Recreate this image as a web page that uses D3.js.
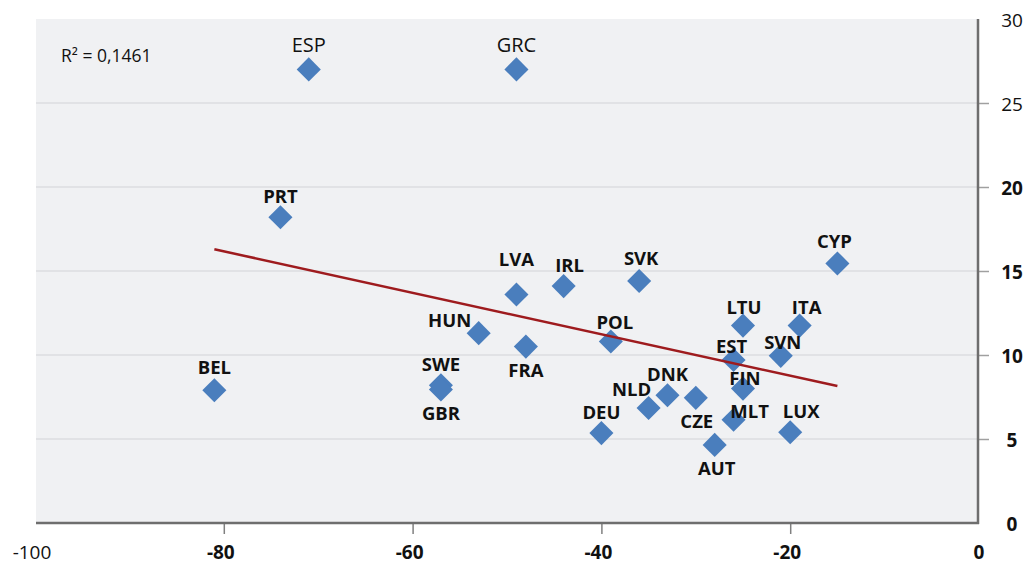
<!DOCTYPE html>
<html>
<head>
<meta charset="utf-8">
<script src="https://cdn.jsdelivr.net/npm/d3@7"></script>
<style>
  html, body { margin: 0; padding: 0; background: #ffffff; }
  svg { display: block; font-family: "Open Sans", "Noto Sans", sans-serif; }
</style>
</head>
<body>
<svg id="chart" width="1027" height="565"></svg>
<script>
// Country codes and their (x, y) values
const countries = ["BEL","PRT","ESP","SWE","GBR","HUN","GRC","LVA","FRA","IRL","DEU","POL","SVK","NLD","DNK","CZE","AUT","MLT","EST","FIN","LTU","SVN","ITA","LUX","CYP"];
const xValues = [-81, -74, -71, -57, -57, -53, -49, -49, -48, -44, -40, -39, -36, -35, -33, -30, -28, -26, -26, -25, -25, -21, -19, -20, -15];
const yValues = [7.9, 18.2, 27, 8.2, 7.95, 11.3, 27, 13.6, 10.5, 14.1, 5.35, 10.8, 14.4, 6.85, 7.6, 7.45, 4.65, 6.15, 9.7, 8.0, 11.75, 9.95, 11.75, 5.4, 15.45];

// Axis ticks
const xTicks = [-100, -80, -60, -40, -20, 0];
const yTicks = [0, 5, 10, 15, 20, 25, 30];
const r2Label = "R² = 0,1461";

// Label placement relative to each marker (pixels)
const labelOffset = {
  BEL: [0, -24], PRT: [0, -22], ESP: [0, -25], SWE: [0, -22], GBR: [0, 23],
  HUN: [-29, -14], GRC: [0, -25], LVA: [0, -36], FRA: [0, 23], IRL: [6, -22],
  DEU: [0, -22], POL: [4, -20], SVK: [2, -24], NLD: [-17, -19], DNK: [0, -22],
  CZE: [1, 23], AUT: [2, 23], MLT: [16, -9], EST: [-2, -15], FIN: [2, -11],
  LTU: [1, -19], SVN: [2, -14], ITA: [7, -19], LUX: [11, -22], CYP: [-3, -23]
};
const regularLabels = new Set(["ESP", "GRC"]);
const regularTicksX = new Set([-100]);
const regularTicksY = new Set([30, 25]);

const svg = d3.select("#chart");
const plotLeft = 36, plotRight = 978, plotTop = 19, plotBottom = 523;

const x = d3.scaleLinear().domain([-100, 0]).range([plotLeft - 1, plotRight + 1]);
const y = d3.scaleLinear().domain([0, 30]).range([plotBottom, plotTop]);

// Plot background
svg.append("rect")
  .attr("x", plotLeft).attr("y", plotTop)
  .attr("width", plotRight - plotLeft).attr("height", plotBottom - plotTop)
  .attr("fill", "#f0f1f3");

// Horizontal gridlines
svg.append("g")
  .selectAll("line")
  .data(yTicks.filter(v => v > 0 && v < 30))
  .join("line")
  .attr("x1", plotLeft).attr("x2", plotRight)
  .attr("y1", d => y(d)).attr("y2", d => y(d))
  .attr("stroke", "#dcdde1").attr("stroke-width", 1.5);

// Bottom axis ticks
const xAxis = d3.axisBottom(x).tickValues(xTicks.filter(v => v > -100 && v < 0))
  .tickSize(11).tickFormat("");
const gx = svg.append("g").attr("transform", `translate(0,${plotBottom})`).call(xAxis);
gx.select(".domain").remove();
gx.selectAll(".tick line").attr("stroke", "#808080").attr("stroke-width", 1.5);

// Right axis ticks
const yAxis = d3.axisRight(y).tickValues(yTicks.filter(v => v > 0 && v < 30))
  .tickSize(11).tickFormat("");
const gy = svg.append("g").attr("transform", `translate(${plotRight},0)`).call(yAxis);
gy.select(".domain").remove();
gy.selectAll(".tick line").attr("stroke", "#a0a0a0").attr("stroke-width", 1.5);

// Axis lines
svg.append("line").attr("x1", plotLeft).attr("x2", plotRight + 1)
  .attr("y1", plotBottom).attr("y2", plotBottom)
  .attr("stroke", "#6e6e6e").attr("stroke-width", 2.5);
svg.append("line").attr("x1", plotRight).attr("x2", plotRight)
  .attr("y1", plotTop).attr("y2", plotBottom + 1)
  .attr("stroke", "#6e6e6e").attr("stroke-width", 2.5);

// Tick labels
svg.append("g").selectAll("text")
  .data(xTicks)
  .join("text")
  .attr("x", d => x(d) - (d < 0 ? 3 : 0))
  .attr("y", 559)
  .attr("text-anchor", "middle")
  .attr("font-size", 19)
  .attr("font-weight", d => regularTicksX.has(d) ? 400 : 700)
  .attr("fill", "#111")
  .text(d => d);

svg.append("g").selectAll("text")
  .data(yTicks)
  .join("text")
  .attr("x", 1012)
  .attr("y", d => y(d) + 1)
  .attr("text-anchor", "middle")
  .attr("dominant-baseline", "central")
  .attr("font-size", 19)
  .attr("font-weight", d => regularTicksY.has(d) ? 400 : 700)
  .attr("fill", "#111")
  .text(d => d);

// Data table
const data = countries.map((c, i) => ({ code: c, x: xValues[i], y: yValues[i] }));

// Least-squares trend line across the data range
const mx = d3.mean(data, d => d.x), my = d3.mean(data, d => d.y);
const sxy = d3.sum(data, d => (d.x - mx) * (d.y - my));
const sxx = d3.sum(data, d => (d.x - mx) ** 2);
const slope = sxy / sxx, intercept = my - slope * mx;
const [xmin, xmax] = d3.extent(data, d => d.x);

// Markers
const diamond = d3.symbol().type(d3.symbolSquare).size(290);
svg.append("g").selectAll("path")
  .data(data)
  .join("path")
  .attr("d", diamond)
  .attr("transform", d => `translate(${x(d.x)},${y(d.y)}) rotate(45)`)
  .attr("fill", "#4a7ebd");

svg.append("line")
  .attr("x1", x(xmin)).attr("y1", y(intercept + slope * xmin))
  .attr("x2", x(xmax)).attr("y2", y(intercept + slope * xmax))
  .attr("stroke", "#9e1b1e").attr("stroke-width", 2.5);

// Country labels
svg.append("g").selectAll("text")
  .data(data)
  .join("text")
  .attr("x", d => x(d.x) + labelOffset[d.code][0])
  .attr("y", d => y(d.y) + labelOffset[d.code][1])
  .attr("text-anchor", "middle")
  .attr("dominant-baseline", "central")
  .attr("font-size", d => regularLabels.has(d.code) ? 20 : 18.5)
  .attr("font-weight", d => regularLabels.has(d.code) ? 400 : 700)
  .attr("fill", "#111")
  .text(d => d.code);

// R² annotation
svg.append("text")
  .attr("x", 61).attr("y", 55)
  .attr("dominant-baseline", "central")
  .attr("font-size", 17.5)
  .attr("fill", "#111")
  .text(r2Label);
</script>
</body>
</html>
